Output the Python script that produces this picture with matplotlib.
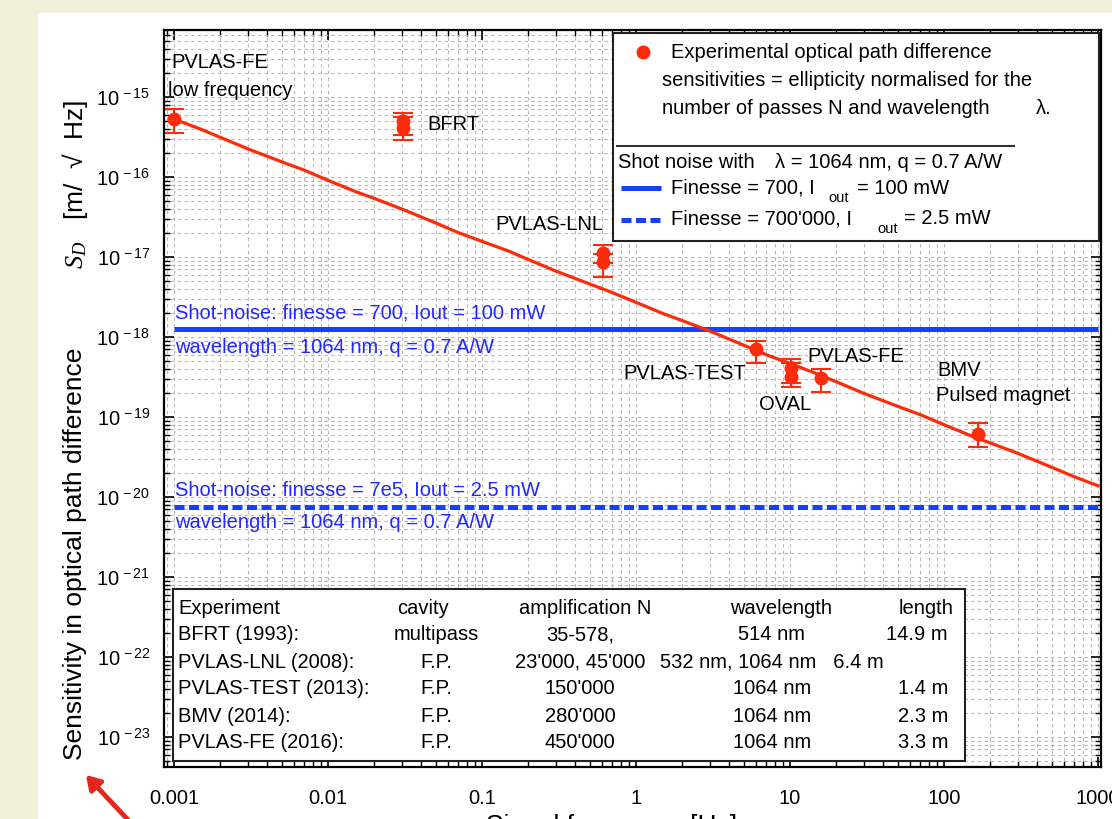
import math
import matplotlib.pyplot as plt
from matplotlib.patches import Rectangle, FancyArrowPatch
from matplotlib.lines import Line2D
from matplotlib.ticker import LogLocator, NullFormatter, FuncFormatter

plt.rcParams['font.family'] = ['Liberation Sans', 'DejaVu Sans']
plt.rcParams['mathtext.fontset'] = 'custom'
plt.rcParams['mathtext.rm'] = 'Liberation Sans'
plt.rcParams['mathtext.it'] = 'Liberation Serif:italic'

W, H = 1112, 819

# red curve: expected sensitivity
curve_freq = [0.001, 0.0015, 0.002, 0.003, 0.005, 0.007, 0.01, 0.015, 0.02, 0.03,
              0.05, 0.07, 0.1, 0.15, 0.2, 0.3, 0.5, 0.7, 1, 1.5, 2, 3, 5, 7, 10,
              15, 20, 30, 50, 70, 100, 150, 200, 300, 500, 700, 1000]
curve_sd = [5.3e-16, 3.95e-16, 3.13e-16, 2.26e-16, 1.55e-16, 1.22e-16, 9.1e-17,
            6.6e-17, 5.4e-17, 4.0e-17, 2.67e-17, 2.02e-17, 1.57e-17, 1.18e-17,
            9.3e-18, 6.7e-18, 4.6e-18, 3.6e-18, 2.71e-18, 1.96e-18, 1.6e-18,
            1.19e-18, 7.9e-19, 6.0e-19, 4.67e-19, 3.46e-19, 2.75e-19, 1.98e-19,
            1.36e-19, 1.07e-19, 8.0e-20, 5.8e-20, 4.73e-20, 3.52e-20, 2.35e-20,
            1.79e-20, 1.38e-20]

# experimental points
exp_freq = [0.001, 0.0307, 0.0307, 0.61, 0.61, 6.0, 10.1, 10.1, 15.8, 166]
exp_sd = [5.3e-16, 5.0e-16, 4.1e-16, 1.12e-17, 8.7e-18, 7.1e-19, 4.1e-19, 3.2e-19, 3.1e-19, 6.1e-20]
exp_hi = [7.1e-16, 6.3e-16, 5.6e-16, 1.41e-17, 1.1e-17, 8.9e-19, 5.3e-19, 4.7e-19, 4.0e-19, 8.4e-20]
exp_lo = [3.55e-16, 3.35e-16, 2.9e-16, 8.5e-18, 5.6e-18, 4.7e-19, 2.66e-19, 2.37e-19, 2.05e-19, 4.2e-20]

# shot noise levels
shot_freq = [0.001, 1000]
shot_700 = 1.25e-18
shot_7e5 = 7.5e-21

point_labels = ['PVLAS-FE', 'low frequency', 'BFRT', 'PVLAS-LNL', 'PVLAS-TEST',
                'OVAL', 'PVLAS-FE', 'BMV', 'Pulsed magnet']
shot_texts = ['Shot-noise: finesse = 700, Iout = 100 mW', 'wavelength = 1064 nm, q = 0.7 A/W',
              'Shot-noise: finesse = 7e5, Iout = 2.5 mW', 'wavelength = 1064 nm, q = 0.7 A/W']

table_header = ['Experiment', 'cavity', 'amplification N', 'wavelength', 'length']
table_rows = [
    ['BFRT (1993):', 'multipass', '35-578,', '514 nm', '14.9 m'],
    ['PVLAS-LNL (2008):', 'F.P.', "23'000, 45'000", '532 nm, 1064 nm   6.4 m', ''],
    ['PVLAS-TEST (2013):', 'F.P.', "150'000", '1064 nm', '1.4 m'],
    ['BMV (2014):', 'F.P.', "280'000", '1064 nm', '2.3 m'],
    ['PVLAS-FE (2016):', 'F.P.', "450'000", '1064 nm', '3.3 m'],
]

RED = '#ff2a0a'
BLUE = '#1440ff'
BLUE_TXT = '#2228ff'
BEIGE = '#f1f0da'
FS = 14.5
DASH = (0, (2.0, 0.9))


def fx(x):
    return x / W


def fy(y):
    return 1 - y / H


def ftext(x, y, s, **kw):
    kw.setdefault('fontsize', FS)
    kw.setdefault('va', 'center')
    return fig.text(fx(x), fy(y), s, **kw)


fig = plt.figure(figsize=(W / 100, H / 100), dpi=100)
fig.patch.set_facecolor(BEIGE)
fig.add_artist(Rectangle((fx(38), 0), 1 - fx(38), fy(13), transform=fig.transFigure,
                         facecolor='white', edgecolor='none', zorder=-1))

ax = fig.add_axes([fx(164), fy(767), fx(1101) - fx(164), fy(30) - fy(767)])
ax.set_xscale('log')
ax.set_yscale('log')
ax.set_xlim(8.6e-4, 1045)
ax.set_ylim(4.2e-24, 6.9e-15)
ax.set_axisbelow(True)

ax.xaxis.set_major_locator(LogLocator(base=10, numticks=20))
ax.xaxis.set_minor_locator(LogLocator(base=10, subs=range(2, 10), numticks=20))
ax.yaxis.set_major_locator(LogLocator(base=10, numticks=20))
ax.yaxis.set_minor_locator(LogLocator(base=10, subs=range(2, 10), numticks=20))
ax.xaxis.set_minor_formatter(NullFormatter())
ax.yaxis.set_minor_formatter(NullFormatter())
ax.xaxis.set_major_formatter(FuncFormatter(lambda v, p: '%g' % v))
ax.yaxis.set_major_formatter(FuncFormatter(
    lambda v, p: r'$\mathregular{10^{\,%d}}$' % round(math.log10(v))))

ax.tick_params(which='both', direction='in', top=True, right=True, labelsize=14.5)
ax.tick_params(which='major', length=7, width=1.2)
ax.tick_params(which='minor', length=4, width=1.0)
ax.tick_params(axis='x', pad=16)
ax.tick_params(axis='y', pad=10)
for s in ax.spines.values():
    s.set_linewidth(1.6)
ax.grid(which='both', linestyle=(0, (3, 3)), color='#b8b8b8', linewidth=0.8)

ax.plot(shot_freq, [shot_700, shot_700], color=BLUE, lw=3.6, solid_capstyle='butt')
ax.plot(shot_freq, [shot_7e5, shot_7e5], color=BLUE, lw=3.6, linestyle=DASH)
ax.plot(curve_freq, curve_sd, color=RED, lw=2.3)
yerr = [[s - l for s, l in zip(exp_sd, exp_lo)], [h - s for s, h in zip(exp_sd, exp_hi)]]
ax.errorbar(exp_freq, exp_sd, yerr=yerr, fmt='o', color=RED, ms=9, capsize=7,
            elinewidth=1.5, capthick=1.5)

# labels next to the points
lab_pos = [(171, 62), (168, 90), (427, 125), (495, 225), (623, 374), (759, 405),
           (807, 357), (937, 371), (936, 395)]
for (x, y), s in zip(lab_pos, point_labels):
    ftext(x, y, s)

for (x, y), s in zip([(175, 313), (175, 347), (175, 490), (175, 522)], shot_texts):
    ftext(x, y, s, color=BLUE_TXT)

# legend box
fig.add_artist(Rectangle((fx(613), fy(241)), fx(1099) - fx(613), fy(33) - fy(241),
                         transform=fig.transFigure, facecolor='white',
                         edgecolor='#222222', lw=1.5, zorder=2))
fig.add_artist(Line2D([fx(617), fx(1014)], [fy(146), fy(146)], transform=fig.transFigure,
                      color='#333333', lw=1.5, zorder=3))
fig.add_artist(Line2D([fx(643)], [fy(52)], transform=fig.transFigure, marker='o',
                      color=RED, ms=9, zorder=3))
fig.add_artist(Line2D([fx(621), fx(661)], [fy(188), fy(188)], transform=fig.transFigure,
                      color=BLUE, lw=3.6, zorder=3, solid_capstyle='butt'))
fig.add_artist(Line2D([fx(621), fx(661)], [fy(220), fy(220)], transform=fig.transFigure,
                      color=BLUE, lw=3.6, zorder=3, linestyle=DASH))
ftext(671, 53, 'Experimental optical path difference')
ftext(662, 81, 'sensitivities = ellipticity normalised for the')
ftext(662, 108, 'number of passes N and wavelength')
ftext(1036, 108, 'λ.')
ftext(618, 162, 'Shot noise with')
ftext(775, 162, 'λ = 1064 nm, q = 0.7 A/W')
ftext(671, 188, 'Finesse = 700, I')
ftext(828, 198, 'out', fontsize=10.5)
ftext(857, 188, '= 100 mW')
ftext(671, 219, "Finesse = 700'000, I")
ftext(877, 229, 'out', fontsize=10.5)
ftext(904, 219, '= 2.5 mW')

# table box
fig.add_artist(Rectangle((fx(173), fy(761)), fx(965) - fx(173), fy(589) - fy(761),
                         transform=fig.transFigure, facecolor='white',
                         edgecolor='#222222', lw=1.5, zorder=2))
head_x = [(178, 'left'), (423, 'center'), (585, 'center'), (781, 'center'), (954, 'right')]
col_x = [(178, 'left'), (436, 'center'), (580, 'center'), (772, 'center'), (948, 'right')]
row_y = [608, 635, 662, 689, 717, 743]
for (x, ha), s in zip(head_x, table_header):
    ftext(x, row_y[0], s, ha=ha)
for row, y in zip(table_rows, row_y[1:]):
    for (x, ha), s in zip(col_x, row):
        ftext(x, y, s, ha=ha)

# axis titles
ftext(75, 760, 'Sensitivity in optical path difference', fontsize=19, rotation=90,
      ha='center', va='bottom')
ftext(75, 100, r'$S_D$   [m/  √  Hz]', fontsize=19, rotation=90, ha='center', va='top')
ftext(612, 814, 'Signal frequency [Hz]', fontsize=19, ha='center', va='top')

# slide arrow
fig.add_artist(FancyArrowPatch((fx(130), fy(822)), (fx(84), fy(773)),
                               transform=fig.transFigure, arrowstyle='-|>,head_length=8,head_width=5',
                               color='#e5261f', lw=3.5, zorder=4))

fig.savefig('out.png', dpi=100, facecolor=fig.get_facecolor())
